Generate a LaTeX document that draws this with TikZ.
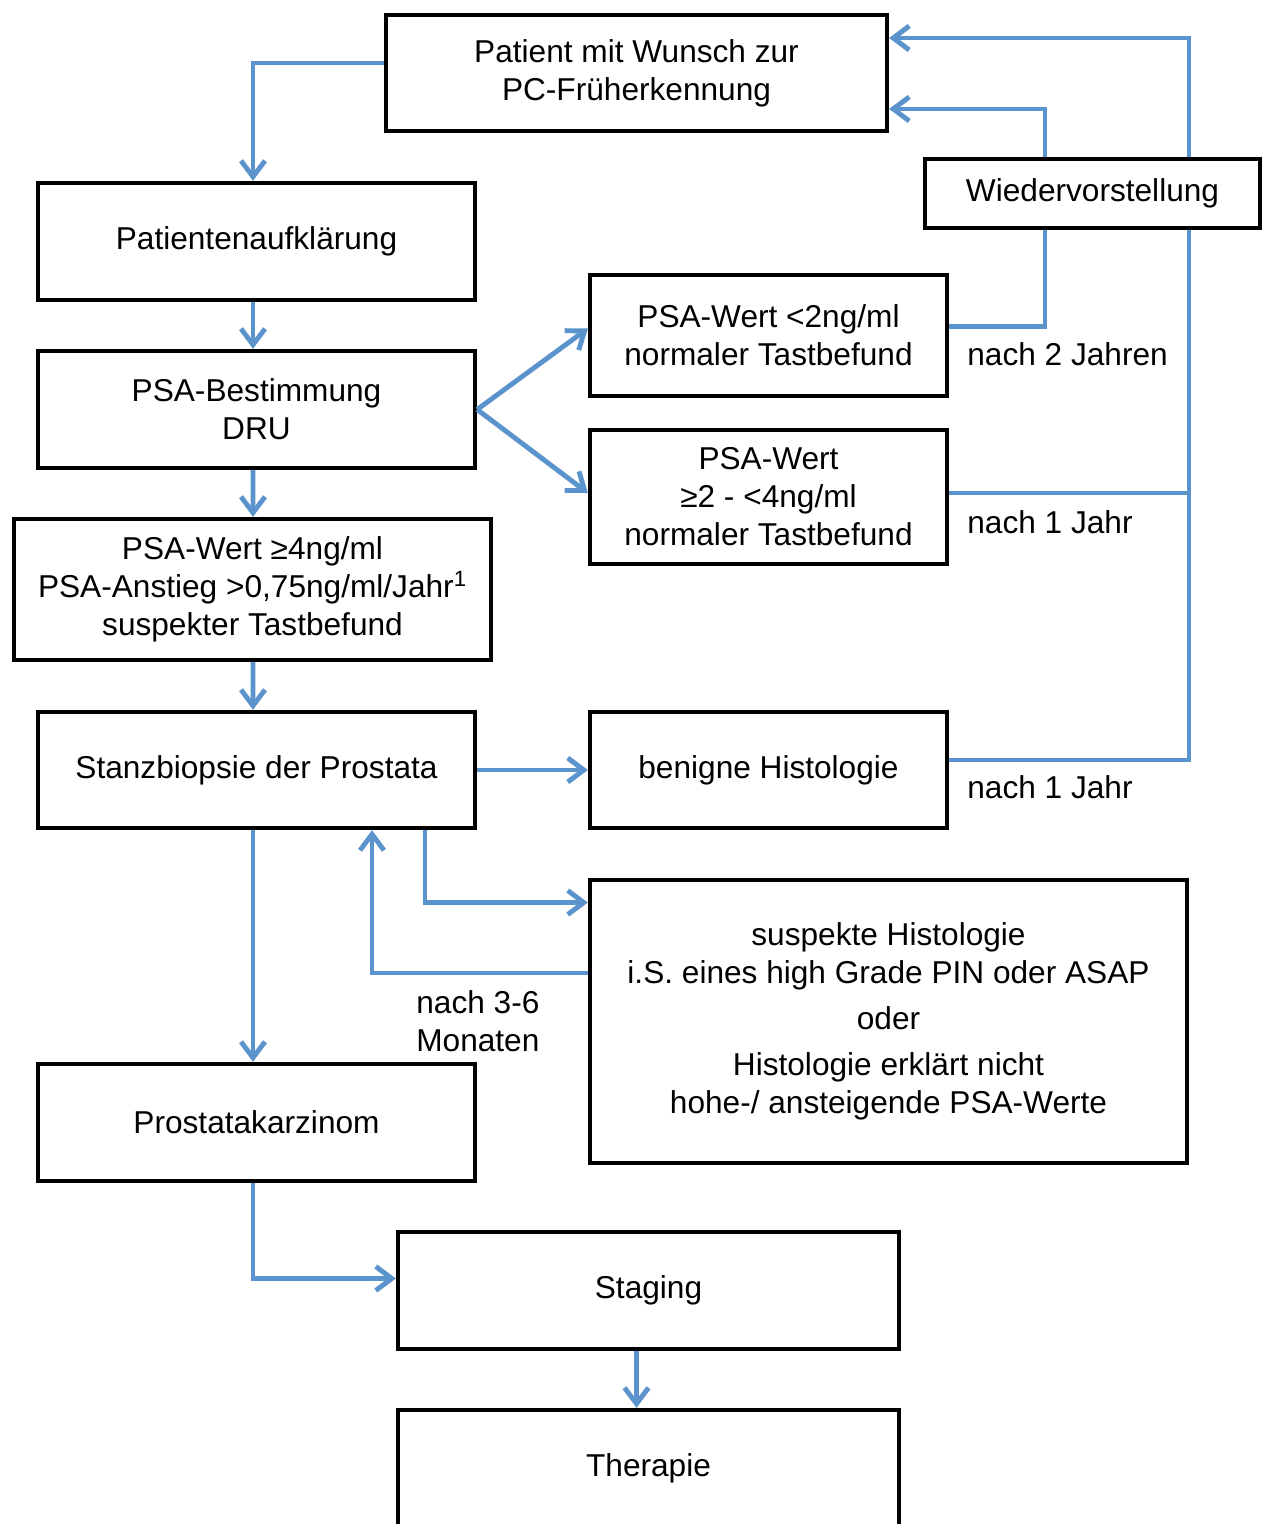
\documentclass[tikz,border=0pt]{standalone}
\usepackage{fontspec}
\setmainfont{Liberation Sans}
\usepackage{tikz}
\usetikzlibrary{arrows.meta,positioning,calc}

\definecolor{flowblue}{RGB}{91,148,205}

\begin{document}
\begin{tikzpicture}[x=0.02cm, y=-0.02cm, >={Straight Barb[length=0.32cm,width=0.48cm]},
  box/.style={draw, line width=2.5pt, fill=white, align=center, inner sep=2pt,
    font=\fontsize{18}{21.6}\selectfont},
  lbl/.style={anchor=west, inner sep=0pt, align=left, font=\fontsize{18}{21.6}\selectfont},
  flow/.style={draw=flowblue, line width=2.8pt}]
  \useasboundingbox (0,0) rectangle (1267,1524);
  % left column
  \node[box, minimum width=10.02cm, minimum height=2.32cm] (patient) at (636.5,73) {Patient mit Wunsch zur\\PC-Früherkennung};
  \node[box, minimum width=8.74cm, minimum height=2.34cm] (aufkl) at (256.5,241.5) {Patientenaufklärung};
  \node[box, minimum width=8.74cm, minimum height=2.34cm] (psabest) at (256.5,409.5) {PSA-Bestimmung\\DRU};
  \node[box, minimum width=9.54cm, minimum height=2.82cm] (psavier) at (252.5,589.5) {PSA-Wert ≥4ng/ml\\PSA-Anstieg >0,75ng/ml/Jahr\textsuperscript{1}\\suspekter Tastbefund};
  \node[box, minimum width=8.74cm, minimum height=2.32cm] (stanz) at (256.5,770) {Stanzbiopsie der Prostata};
  \node[box, minimum width=8.74cm, minimum height=2.34cm] (karz) at (256.5,1122.5) {Prostatakarzinom};
  \node[box, minimum width=10.02cm, minimum height=2.34cm] (staging) at (648.5,1290.5) {Staging};
  \node[box, minimum width=10.02cm, minimum height=2.34cm] (therapie) at (648.5,1468.5) {Therapie};
  % right column
  \node[box, minimum width=6.7cm, minimum height=1.38cm] (wieder) at (1092.5,193.5) {Wiedervorstellung};
  \node[box, minimum width=7.14cm, minimum height=2.42cm] (psazwei) at (768.5,335.5) {PSA-Wert <2ng/ml\\normaler Tastbefund};
  \node[box, minimum width=7.14cm, minimum height=2.68cm] (psamitte) at (768.5,497) {PSA-Wert\\≥2 - <4ng/ml\\normaler Tastbefund};
  \node[box, minimum width=7.14cm, minimum height=2.32cm] (benigne) at (768.5,770) {benigne Histologie};
  \node[box, minimum width=11.94cm, minimum height=5.66cm] (susp) at (888.5,1021.5) {suspekte Histologie\\i.S. eines high Grade PIN oder ASAP\\[0.16cm]oder\\[0.16cm]Histologie erklärt nicht\\hohe-/ ansteigende PSA-Werte};
  % labels
  \node[lbl] (zweijahre) at (967,354) {nach 2 Jahren};
  \node[lbl] (einjahr) at (967,522) {nach 1 Jahr};
  \node[lbl] (einjahrb) at (967,787) {nach 1 Jahr};
  \node[lbl] (monate) at (416,1021) {nach 3-6\\Monaten};
  % helper points
  \coordinate (rail) at ([xshift=1.93cm]wieder.south);
  \coordinate (railtop) at ([xshift=1.93cm]wieder.north);
  \coordinate (jmitte) at ([yshift=0.08cm]psamitte.east);
  % main flow
  \draw[flow, ->] ([yshift=0.2cm]patient.west) -| ([xshift=-0.07cm]aufkl.north);
  \draw[flow, ->] ([xshift=-0.07cm]aufkl.south) -- ([xshift=-0.07cm]psabest.north);
  \draw[flow, ->] ([xshift=-0.07cm]psabest.south) -- ([xshift=0.01cm]psavier.north);
  \draw[flow, ->] ([xshift=0.01cm]psavier.south) -- ([xshift=-0.07cm]stanz.north);
  \draw[flow, ->] ([xshift=-0.07cm]stanz.south) -- ([xshift=-0.07cm]karz.north);
  \draw[flow, ->] ([xshift=-0.07cm]karz.south) |- ([yshift=0.24cm]staging.west);
  \draw[flow, ->] ([xshift=-0.24cm]staging.south) -- ([xshift=-0.24cm]therapie.north);
  \draw[flow, ->] (psabest.east) -- ([yshift=0.14cm]psazwei.west);
  \draw[flow, ->] (psabest.east) -- ([yshift=0.08cm]psamitte.west);
  \draw[flow, ->] (stanz) -- (benigne);
  \draw[flow, ->] ([xshift=3.37cm]stanz.south) |- ([yshift=2.38cm]susp.west);
  \draw[flow, ->] ([yshift=0.97cm]susp.west) -| ([xshift=2.31cm]stanz.south);
  % follow-up
  \draw[flow] ([yshift=0.18cm]psazwei.east) -| ([xshift=-0.95cm]wieder.south);
  \draw[flow, ->] ([xshift=-0.95cm]wieder.north) |- ([yshift=-0.72cm]patient.east);
  \draw[flow] (jmitte) -- (jmitte -| rail);
  \draw[flow] ([yshift=0.2cm]benigne.east) -| (rail);
  \draw[flow, ->] (railtop) |- ([yshift=0.7cm]patient.east);
\end{tikzpicture}
\end{document}
